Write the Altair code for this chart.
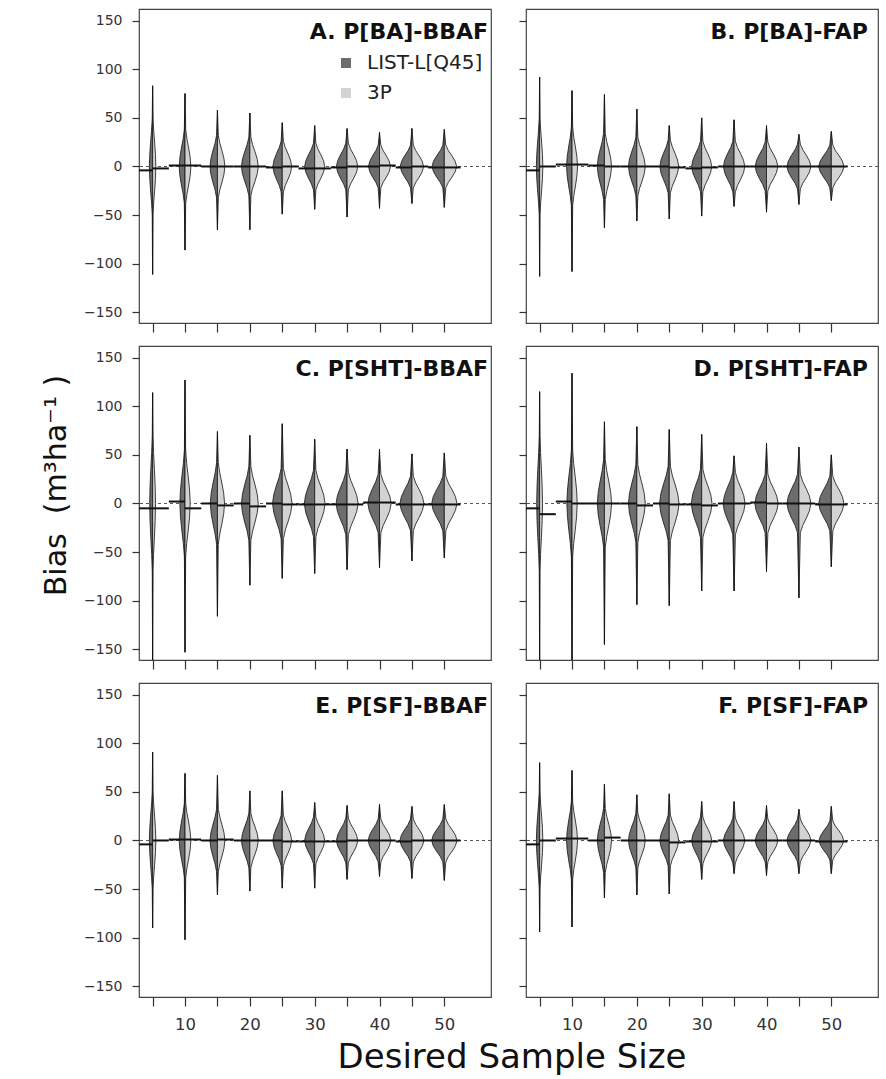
import altair as alt
import pandas as pd

# ---------------- data ----------------
N = [5, 10, 15, 20, 25, 30, 35, 40, 45, 50]
N_LABELS = [10, 20, 30, 40, 50]
SERIES = ["LIST-L[Q45]", "3P"]
COLORS = ["#6d6d6d", "#d3d3d3"]
KEYS = ["A", "B", "C", "D", "E", "F"]
TITLES = ["A. P[BA]-BBAF", "B. P[BA]-FAP", "C. P[SHT]-BBAF",
          "D. P[SHT]-FAP", "E. P[SF]-BBAF", "F. P[SF]-FAP"]

# upper / lower tail tips of each violin (m3/ha)
TOP = {
    "A": [83, 75, 58, 55, 45, 42, 39, 35, 39, 38],
    "B": [92, 78, 74, 59, 42, 50, 48, 42, 33, 36],
    "C": [114, 127, 74, 70, 82, 66, 56, 56, 51, 52],
    "D": [115, 134, 84, 79, 76, 71, 49, 62, 58, 50],
    "E": [91, 69, 67, 51, 51, 39, 36, 37, 35, 37],
    "F": [80, 72, 58, 47, 48, 40, 40, 36, 32, 35],
}
BOT = {
    "A": [-111, -86, -65, -65, -49, -44, -52, -43, -38, -42],
    "B": [-113, -108, -63, -56, -54, -51, -41, -47, -39, -35],
    "C": [-165, -153, -116, -84, -77, -72, -68, -66, -59, -56],
    "D": [-165, -165, -145, -104, -105, -90, -90, -70, -97, -65],
    "E": [-90, -102, -56, -52, -49, -49, -40, -37, -39, -41],
    "F": [-94, -89, -59, -56, -55, -40, -34, -36, -34, -34],
}
# half extent of the violin body (where the thin tails begin)
BODY = {
    "A": [50, 38, 32, 30, 26, 24, 24, 22, 22, 22],
    "B": [50, 40, 34, 30, 27, 26, 26, 25, 23, 22],
    "C": [70, 55, 42, 38, 36, 34, 32, 30, 28, 28],
    "D": [70, 55, 45, 40, 38, 35, 32, 30, 30, 28],
    "E": [50, 38, 32, 28, 26, 24, 23, 22, 22, 22],
    "F": [50, 40, 33, 28, 26, 24, 23, 22, 22, 20],
}
# maximum half width of each violin (sample-size units)
WIDTH = {
    "A": [0.5, 0.9, 1.15, 1.3, 1.45, 1.55, 1.65, 1.7, 1.8, 1.9],
    "B": [0.5, 0.85, 1.1, 1.3, 1.45, 1.55, 1.65, 1.75, 1.85, 1.95],
    "C": [0.45, 0.8, 1.1, 1.3, 1.5, 1.6, 1.7, 1.8, 1.85, 1.95],
    "D": [0.45, 0.8, 1.1, 1.3, 1.5, 1.6, 1.7, 1.8, 1.85, 1.95],
    "E": [0.5, 0.9, 1.15, 1.3, 1.45, 1.55, 1.65, 1.75, 1.85, 1.95],
    "F": [0.5, 0.85, 1.1, 1.3, 1.45, 1.55, 1.65, 1.75, 1.85, 1.9],
}
# mean bias of each method
MEAN_L = {
    "A": [-4, 1, 0, 0, -1, -2, -1, 0, -1, -1],
    "B": [-4, 2, 1, 0, 0, -2, 0, 0, 0, 0],
    "C": [-5, 2, 0, 0, 0, -1, -1, 1, -1, -1],
    "D": [-5, 2, 0, 0, 0, -1, 0, 1, 0, -1],
    "E": [-4, 1, 0, 0, 0, -1, -1, 0, -1, 0],
    "F": [-4, 2, 0, 0, 0, -1, 0, 0, 0, -1],
}
MEAN_P = {
    "A": [-2, 1, 0, 0, 0, -2, 0, 1, 0, -1],
    "B": [0, 2, 0, 0, -1, -1, 0, 0, 0, 0],
    "C": [-5, -5, -2, -3, -1, -1, -1, 1, -1, -1],
    "D": [-11, 0, 0, -2, -1, -2, 0, 0, 0, -1],
    "E": [0, 1, 1, 0, -1, -1, 0, 0, 0, 0],
    "F": [0, 2, 3, 0, -2, -1, 0, 0, 0, -1],
}
Y_TICKS = [-150, -100, -50, 0, 50, 100, 150]
Y_TITLE = "Bias\u00a0\u00a0(m\u00b3ha\u207b\u00b9\u00a0)"
X_TITLE = "Desired Sample Size"

# ---------------- style ----------------
FONT = "DejaVu Sans"
PW, PH = 352, 314
XDOM = [2.9, 57.2]
YDOM = [-161, 162]
# relative violin outline (body fraction, width fraction), top to bottom
SHAPE_Y = [1.0, 0.75, 0.5, 0.25, 0.0, -0.25, -0.5, -0.75, -1.0]
SHAPE_W = [0.12, 0.32, 0.62, 0.88, 1.0, 0.88, 0.62, 0.32, 0.12]


def violin_table(k):
    rows = []
    for i, n in enumerate(N):
        ys = [TOP[k][i]] + [BODY[k][i] * s for s in SHAPE_Y] + [BOT[k][i]]
        ws = [0.0] + [WIDTH[k][i] * s for s in SHAPE_W] + [0.0]
        for s_i, s in enumerate(SERIES):
            for yy, ww in zip(ys, ws):
                if s_i == 0:
                    xa, xb = n - ww, n
                else:
                    xa, xb = n, n + ww
                rows.append(dict(vid=f"{n}-{s_i}", series=s, y=yy, xa=xa, xb=xb))
    return pd.DataFrame(rows)


def mean_table(k):
    rows = []
    for i, n in enumerate(N):
        rows.append(dict(series=SERIES[0], xa=n - 2.5, xb=n, m=MEAN_L[k][i]))
        rows.append(dict(series=SERIES[1], xa=n, xb=n + 2.5, m=MEAN_P[k][i]))
    return pd.DataFrame(rows)


def panel(idx):
    k = KEYS[idx]
    col = idx % 2
    row = idx // 2
    ylab = col == 0
    xlab = row == 2

    xscale = alt.Scale(domain=XDOM, nice=False, zero=False)
    yscale = alt.Scale(domain=YDOM, nice=False, zero=False)
    tick_axis = alt.Axis(values=N, labels=False, title=None, grid=False, domain=False,
                         orient="bottom", tickSize=9, tickColor="#333", tickWidth=1.2)
    label_axis = alt.Axis(values=N_LABELS, labels=True, ticks=False, tickSize=0, title=None,
                          grid=False, domain=False, orient="bottom", format="d",
                          labelFontSize=16.5, labelColor="#333", labelFont=FONT,
                          labelPadding=19)
    yaxis_kw = dict(values=Y_TICKS, labels=ylab, grid=False, domain=False,
                    tickSize=7, tickColor="#333", tickWidth=1.2,
                    labelFontSize=14, labelColor="#333", labelFont=FONT, labelPadding=10)
    if idx == 2:
        yaxis = alt.Axis(title=Y_TITLE, titleFontSize=30, titleFont=FONT,
                         titleFontWeight="normal", titleColor="#111", titlePadding=12,
                         titleY=139, **yaxis_kw)
    else:
        yaxis = alt.Axis(title=None, **yaxis_kw)

    zero = alt.Chart(pd.DataFrame({"z": [0]})).mark_rule(
        color="#555", strokeDash=[3, 3], strokeWidth=1
    ).encode(y=alt.Y("z:Q", scale=yscale, axis=yaxis))

    violins = alt.Chart(violin_table(k)).mark_area(
        orient="horizontal", stroke="#111", strokeWidth=0.8, clip=True, opacity=1
    ).encode(
        y=alt.Y("y:Q", scale=yscale, axis=yaxis),
        x=alt.X("xa:Q", scale=xscale, axis=tick_axis),
        x2="xb:Q",
        color=alt.Color("series:N", scale=alt.Scale(domain=SERIES, range=COLORS),
                        legend=alt.Legend(title=None, orient="none", legendX=197, legendY=44,
                                          symbolType="square", symbolSize=100,
                                          symbolStrokeWidth=0, labelFontSize=20,
                                          labelFont=FONT, labelColor="#222",
                                          rowPadding=10, labelOffset=11)),
        detail="vid:N",
    )

    means = alt.Chart(mean_table(k)).mark_rule(color="#111", strokeWidth=2, clip=True).encode(
        x=alt.X("xa:Q", scale=xscale, axis=label_axis if xlab else None),
        x2="xb:Q",
        y=alt.Y("m:Q", scale=yscale, axis=yaxis),
    )

    title = alt.Chart(pd.DataFrame({"t": [TITLES[idx]]})).mark_text(
        align="right", baseline="alphabetic", fontSize=22, fontWeight="bold",
        font=FONT, color="#111"
    ).encode(text="t:N", x=alt.value(PW - (3 if col == 0 else 10)), y=alt.value(30))

    return (alt.layer(zero, violins, means, title)
            .resolve_axis(x="independent")
            .properties(width=PW, height=PH))


panels = [panel(i) for i in range(6)]
chart = alt.concat(*panels, columns=2, spacing={"row": 23, "column": 35}, bounds="flush").properties(
    title=alt.TitleParams(X_TITLE, orient="bottom", anchor="middle",
                          fontSize=34, fontWeight="normal", font=FONT, color="#111",
                          offset=8, dx=52),
    padding={"left": 40, "top": 8, "right": 2, "bottom": 0},
).configure(font=FONT, view=alt.ViewConfig(stroke="#444", strokeWidth=1.2))

chart.save("out.html", embed_options={"renderer": "svg", "actions": False})
